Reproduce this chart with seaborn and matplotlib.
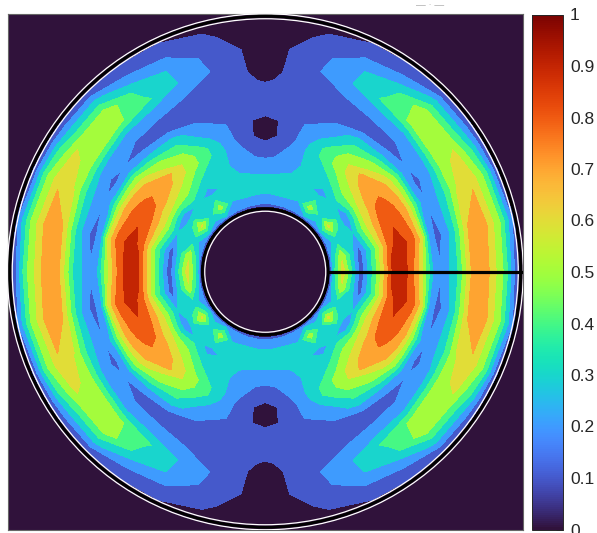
import numpy as np
import matplotlib
matplotlib.use('Agg')
import matplotlib.pyplot as plt
import seaborn as sns

# radial nodes and first-quadrant angles
radius = [64, 68, 78, 96, 112, 128, 136, 144, 152, 160, 168, 176, 184, 192, 208, 224, 240, 252, 256]
angles = [0, 12, 24, 31, 36, 45, 55, 65, 75, 85, 90]
field = [
    [.03, .35, .65, .13, .52, .93, .96, .88, .72, .52, .30, .22, .30, .38, .74, .70, .47, .12, .05],
    [.03, .30, .58, .15, .48, .88, .93, .90, .82, .64, .26, .16, .24, .35, .71, .74, .50, .22, .05],
    [.03, .27, .33, .30, .62, .85, .88, .82, .75, .55, .32, .215, .27, .33, .59, .69, .47, .14, .04],
    [.03, .28, .50, .23, .60, .80, .82, .78, .69, .52, .28, .16, .24, .30, .58, .62, .39, .13, .03],
    [.03, .30, .63, .21, .58, .78, .78, .76, .65, .50, .30, .21, .25, .28, .58, .57, .33, .13, .03],
    [.03, .28, .34, .34, .53, .68, .72, .60, .52, .38, .24, .16, .20, .22, .52, .57, .33, .12, .03],
    [.03, .30, .55, .25, .40, .55, .55, .50, .42, .35, .21, .16, .19, .23, .42, .36, .20, .12, .03],
    [.03, .26, .30, .33, .36, .40, .40, .33, .26, .22, .18, .15, .16, .20, .30, .29, .17, .10, .02],
    [.03, .22, .31, .32, .265, .25, .22, .21, .20, .16, .14, .13, .13, .13, .195, .17, .12, .08, .02],
    [.03, .20, .30, .31, .22, .125, .10, .10, .10, .12, .125, .125, .115, .105, .095, .09, .06, .03, .01],
    [.03, .20, .30, .31, .21, .105, .09, .085, .09, .11, .115, .12, .11, .095, .07, .05, .03, .01, .00],
]
levels = [0, .1, .2, .3, .4, .5, .6, .7, .8, .9, 1]
tick_labels = ['0', '0.1', '0.2', '0.3', '0.4', '0.5', '0.6', '0.7', '0.8', '0.9', '1']


def mirror_quadrant(th, values):
    # the pattern repeats in all four quadrants
    th = np.array(th, dtype=float)
    values = np.array(values)
    half_th = np.concatenate([th, 180 - th[-2::-1]])
    half_v = np.vstack([values, values[-2::-1]])
    full_th = np.concatenate([half_th, 360 - half_th[-2::-1]])
    full_v = np.vstack([half_v, half_v[-2::-1]])
    return full_th, full_v


def main() -> None:
    sns.set_theme(style='white')
    plt.rcParams['font.family'] = ['Liberation Sans', 'DejaVu Sans']
    turbo = sns.color_palette('turbo', as_cmap=True)
    w, h = 597, 533

    fig = plt.figure(figsize=(w / 100, h / 100), dpi=100)
    ax = fig.add_axes([7.5 / w, 1 - 529.5 / h, 515.5 / w, 515.5 / h])
    cax = fig.add_axes([532 / w, 1 - 529.5 / h, 31 / w, 515 / h])

    th, values = mirror_quadrant(angles, field)
    rr, tt = np.meshgrid(radius, np.radians(th))
    band_colors = [turbo(i / 10) for i in range(10)]

    ax.set_facecolor(turbo(0.0))
    ax.contourf(rr * np.cos(tt), rr * np.sin(tt), values, levels=levels, colors=band_colors)

    for r, color, lw in [(258, 'white', 0.9), (255.5, 'black', 2.0), (253, 'white', 0.9),
                         (63, 'black', 2.0), (60.5, 'white', 0.9)]:
        ax.add_patch(plt.Circle((0, 0), r, fill=False, color=color, lw=lw, zorder=3))
    ax.plot([64, 258], [0, 0], color='black', lw=2.3, zorder=4)

    ax.set_xlim(-257.75, 257.75)
    ax.set_ylim(-257.75, 257.75)
    ax.set_xticks([])
    ax.set_yticks([])
    for spine in ax.spines.values():
        spine.set_color('#666666')
        spine.set_linewidth(0.8)

    mappable = plt.cm.ScalarMappable(norm=plt.Normalize(0, 1), cmap=turbo)
    cbar = fig.colorbar(mappable, cax=cax)
    cbar.set_ticks(levels)
    cbar.set_ticklabels(tick_labels)
    cax.tick_params(direction='in', length=5, width=0.7, color='#262626',
                    labelsize=12.5, labelcolor='#262626', pad=5, right=True)
    cbar.outline.set_edgecolor('#262626')
    cbar.outline.set_linewidth(0.7)

    fig.text(430 / w, 1 - 5 / h, '— · —', color='#b0b0b0', fontsize=7, ha='center', va='center')
    fig.savefig('out.png', dpi=100)


if __name__ == '__main__':
    main()
